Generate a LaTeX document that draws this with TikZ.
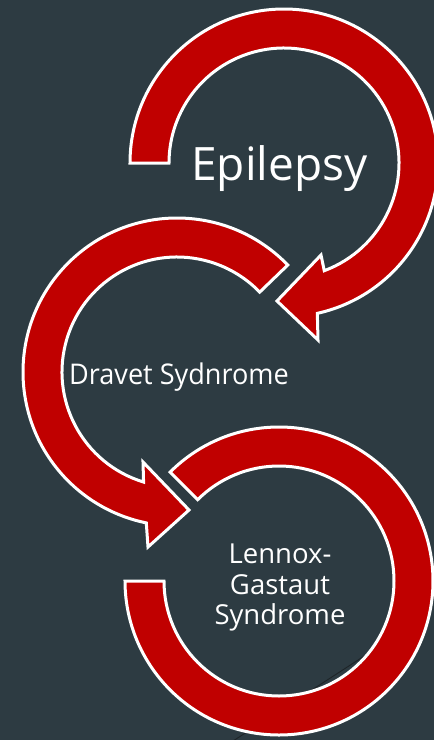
\documentclass[tikz,border=0pt]{standalone}
\usepackage{fontspec}
\setmainfont{Open Sans}
\definecolor{bgslate}{HTML}{2D3B42}
\definecolor{ringred}{HTML}{C00000}
\definecolor{strayline}{HTML}{1E2428}
\begin{document}
\begin{tikzpicture}[x=1pt,y=1pt,
  ringarrow/.style={fill=ringred,draw=white,line width=3pt,line join=miter},
  label/.style={text=white,inner sep=0pt}]
\useasboundingbox (0,0) rectangle (434,-740);
\fill[bgslate] (0,0) rectangle (434,-740);
\clip (0,0) rectangle (434,-740);
% faint stray line behind the lower ring
\coordinate (s1) at (372,-651);
\coordinate (s2) at (233,-741);
\draw[strayline,line width=0.9pt] (s1) -- (s2);
% lower ring (Lennox-Gastaut)
\draw[ringarrow] ([shift={(279,-581)}]135:154) arc[start angle=135,end angle=-180,radius=154]
  -- ([shift={(279,-581)}]180:115) arc[start angle=-180,end angle=135,radius=115] -- cycle;
% middle arrow (Dravet)
\draw[ringarrow] ([shift={(177,-372)}]44:154) arc[start angle=44,end angle=258.5,radius=154]
  -- (148,-547) -- (189,-510) -- (143,-462)
  -- ([shift={(177,-372)}]253.1:115) arc[start angle=253.1,end angle=44,radius=115] -- cycle;
% top arrow (Epilepsy)
\draw[ringarrow] ([shift={(284,-163)}]180:154) arc[start angle=180,end angle=-77.5,radius=154]
  -- (318,-340) -- (277,-301) -- (321,-255)
  -- ([shift={(284,-163)}]-69.5:115) arc[start angle=-69.5,end angle=180,radius=115] -- cycle;
% labels
\node[label,anchor=base,font=\fontsize{46}{50}\selectfont] (epi) at (279.5,-180) {Epilepsy};
\node[label,anchor=base,xscale=0.95,font=\fontsize{28.5}{32}\selectfont] (dra) at (179,-384) {Dravet Sydnrome};
\node[label,anchor=base,font=\fontsize{27.5}{30}\selectfont] (len1) at (280,-563) {Lennox-};
\node[label,anchor=base,font=\fontsize{27.5}{30}\selectfont] (len2) at (280,-594) {Gastaut};
\node[label,anchor=base,font=\fontsize{27.5}{30}\selectfont] (len3) at (280,-624) {Syndrome};
\end{tikzpicture}
\end{document}
